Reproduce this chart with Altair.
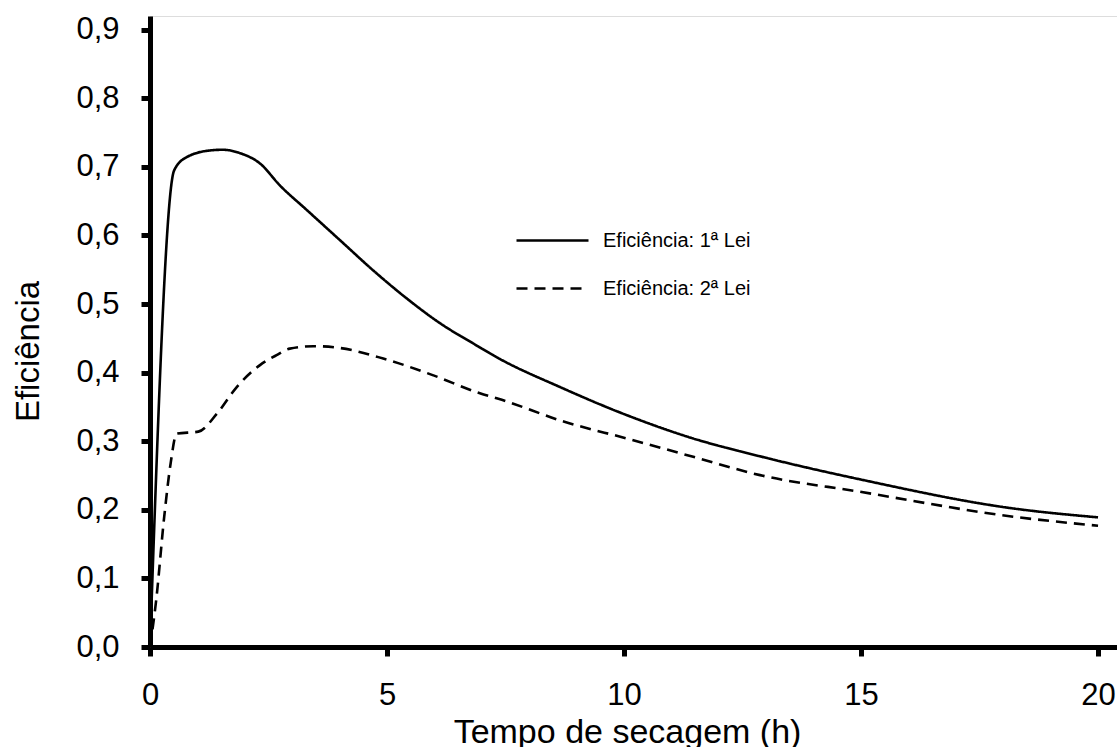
import altair as alt
import pandas as pd

# Series 1: Eficiência 1ª Lei (solid)
t1 = [0, 0.51, 0.77, 1.27, 1.54, 1.9, 2.32, 2.74, 3.31, 4.01, 4.71, 5.42, 6.12,
      6.82, 7.38, 8.65, 10.06, 11.46, 12.87, 14.98, 18.21, 20.0]
e1 = [0, 0.695, 0.714, 0.724, 0.725, 0.720, 0.705, 0.673, 0.637, 0.593, 0.549, 0.508, 0.472,
      0.4425, 0.420, 0.379, 0.338, 0.304, 0.278, 0.2444, 0.202, 0.189]

# Series 2: Eficiência 2ª Lei (dashed)
t2 = [0, 0.13, 0.3, 0.44, 0.56, 1.02, 1.41, 1.83, 2.32, 2.67, 2.95, 3.45, 4.0, 4.92,
      5.98, 6.96, 7.35, 8.76, 10.06, 11.46, 12.87, 14.98, 18.21, 20.0]
e2 = [0, 0.068, 0.19, 0.27, 0.311, 0.314, 0.34, 0.379, 0.411, 0.4255, 0.435, 0.4386, 0.436, 0.4206,
      0.396, 0.37, 0.362, 0.328, 0.304, 0.2773, 0.2506, 0.2263, 0.19, 0.1768]

series_names = ["Eficiência: 1ª Lei", "Eficiência: 2ª Lei"]
x_ticks = [0, 5, 10, 15, 20]
y_ticks = [0.0, 0.1, 0.2, 0.3, 0.4, 0.5, 0.6, 0.7, 0.8, 0.9]

df = pd.concat([
    pd.DataFrame({"t": t1, "e": e1, "serie": series_names[0]}),
    pd.DataFrame({"t": t2, "e": e2, "serie": series_names[1]}),
])

FONT = "Liberation Sans"

chart = alt.Chart(df).mark_line(interpolate="monotone", color="black", strokeWidth=2.6).encode(
    x=alt.X("t:Q",
            scale=alt.Scale(domain=[0, 20.4], nice=False, zero=False),
            axis=alt.Axis(values=x_ticks, title="Tempo de secagem (h)", grid=False,
                          domainColor="black", domainWidth=5, tickColor="black", tickWidth=5,
                          tickSize=9, labelFontSize=31, labelPadding=24, labelColor="black",
                          labelFont=FONT, titleFont=FONT, titleFontSize=34, titleFontWeight="normal",
                          titleColor="black", titleBaseline="alphabetic", titleY=95, titleX=477,
                          labelFlush=False)),
    y=alt.Y("e:Q",
            scale=alt.Scale(domain=[0, 0.92], nice=False, zero=False),
            axis=alt.Axis(values=y_ticks, title="Eficiência", grid=False,
                          labelExpr="replace(format(datum.value, '.1f'), '.', ',')",
                          domainColor="black", domainWidth=5, tickColor="black", tickWidth=5,
                          tickSize=9, labelFontSize=31, labelPadding=22, labelColor="black",
                          labelFont=FONT, titleFont=FONT, titleFontSize=33, titleFontWeight="normal",
                          titleColor="black", titleBaseline="alphabetic", titleX=-112, titleY=335,
                          labelFlush=False)),
    strokeDash=alt.StrokeDash("serie:N",
                              scale=alt.Scale(domain=series_names, range=[[1, 0], [11, 7]]),
                              legend=alt.Legend(title=None, orient="none", legendX=365, legendY=187,
                                                symbolType="stroke", symbolSize=5184,
                                                symbolStrokeWidth=2.6, symbolStrokeColor="black",
                                                labelFont=FONT, labelFontSize=20, labelColor="black",
                                                labelOffset=13, rowPadding=-20)),
).properties(
    width=967,
    height=631,
    autosize=alt.AutoSizeParams(type="none"),
    padding={"left": 150, "top": 16, "right": 0, "bottom": 100},
).configure_view(stroke=None).configure(background="white")

chart.save("out.html", embed_options={"renderer": "svg", "actions": False})
